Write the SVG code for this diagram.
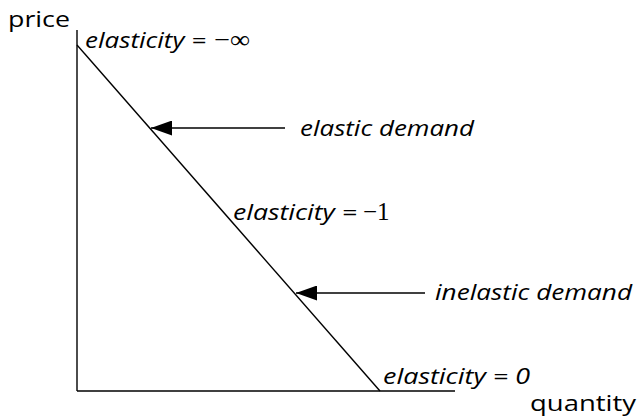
<svg xmlns="http://www.w3.org/2000/svg" width="637" height="418" viewBox="0 0 637 418">
<defs>
<style>
.ax{stroke:#000;stroke-width:1.4;fill:none}
.t{font-family:"Open Sans","Liberation Sans",sans-serif;font-size:21px;fill:#000}
.i{font-style:italic}
.m{font-family:"Liberation Serif",serif;font-style:normal;font-size:25px}
</style>
<marker id="ah" viewBox="0 0 10 10" refX="10" refY="5" markerWidth="21" markerHeight="15" markerUnits="userSpaceOnUse" orient="auto" preserveAspectRatio="none">
<path d="M0,0 L10,5 L0,10 Z" fill="#000"/>
</marker>
</defs>
<g id="axes">
<line class="ax" x1="77" y1="30" x2="77" y2="391"/>
<line class="ax" x1="77" y1="391" x2="455" y2="391"/>
</g>
<g id="demand">
<line class="ax" x1="77" y1="45" x2="380" y2="391"/>
</g>
<g id="connectors">
<line class="ax" x1="285" y1="128" x2="151" y2="128" marker-end="url(#ah)"/>
<line class="ax" x1="425" y1="293" x2="296" y2="293" marker-end="url(#ah)"/>
</g>
<g id="labels">
<text class="t" x="8" y="27" textLength="62" lengthAdjust="spacingAndGlyphs">price</text>
<text class="t i" x="85" y="48"><tspan textLength="121" lengthAdjust="spacingAndGlyphs">elasticity =</tspan><tspan class="m" dx="8" textLength="36" lengthAdjust="spacingAndGlyphs">−∞</tspan></text>
<text class="t i" x="300" y="136" textLength="174" lengthAdjust="spacingAndGlyphs">elastic demand</text>
<text class="t i" x="233" y="220"><tspan textLength="124" lengthAdjust="spacingAndGlyphs">elasticity =</tspan><tspan class="m" dx="6">−1</tspan></text>
<text class="t i" x="435" y="300" textLength="197" lengthAdjust="spacingAndGlyphs">inelastic demand</text>
<text class="t i" x="383" y="384" textLength="147" lengthAdjust="spacingAndGlyphs">elasticity = 0</text>
<text class="t" x="530" y="411" textLength="106" lengthAdjust="spacingAndGlyphs">quantity</text>
</g>
</svg>
